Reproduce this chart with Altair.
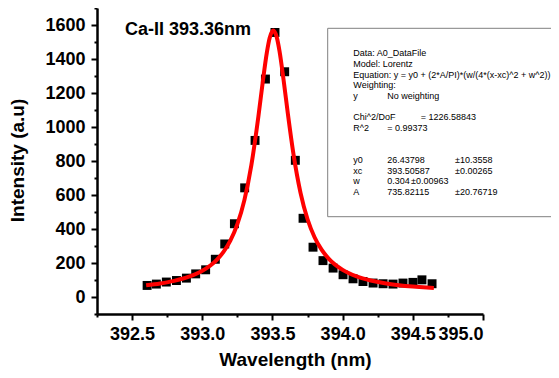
import altair as alt
import pandas as pd

# ---- data ----
wl = [392.607, 392.673, 392.744, 392.816, 392.887, 392.953, 393.024, 393.093, 393.160, 393.229,
      393.302, 393.376, 393.450, 393.518, 393.587, 393.663, 393.718, 393.789, 393.860, 393.932,
      394.003, 394.074, 394.145, 394.217, 394.288, 394.359, 394.430, 394.501, 394.565, 394.637]
inten = [68, 76, 88, 97, 111, 136, 160, 222, 312, 431,
         642, 921, 1282, 1556, 1325, 804, 463, 293, 214, 170,
         131, 107, 91, 82, 78, 76, 82, 86, 101, 78]

fit_x = [392.60, 392.70, 392.80, 392.90, 393.00, 393.10, 393.15, 393.20, 393.25, 393.30,
         393.35, 393.40, 393.43, 393.46, 393.48, 393.506, 393.53, 393.55, 393.58, 393.61,
         393.65, 393.70, 393.75, 393.80, 393.85, 393.90, 394.00, 394.10, 394.20, 394.30,
         394.40, 394.50, 394.60, 394.65]
fit_y = [68.6, 79.4, 94.7, 117.7, 154.1, 215.8, 264.2, 331.4, 428.2, 569.8,
         777.2, 1063.7, 1259.4, 1437.9, 1523.9, 1567.3, 1530.2, 1448.1, 1272.3, 1075.9,
         838.8, 612.7, 457.3, 351.4, 278.1, 226.1, 159.7, 121.1, 97.0, 80.9,
         69.7, 61.6, 55.6, 53.2]

x_major = [392.5, 393.0, 393.5, 394.0, 394.5, 395.0]
x_minor = [392.25, 392.75, 393.25, 393.75, 394.25, 394.75]
y_major = [0, 200, 400, 600, 800, 1000, 1200, 1400, 1600]
y_minor = [-100, 100, 300, 500, 700, 900, 1100, 1300, 1500, 1700]

title_text = "Ca-II 393.36nm"
box_lines = [
    ("Data: A0_DataFile", 0, 0),
    ("Model: Lorentz", 0, 1),
    ("Equation: y = y0 + (2*A/PI)*(w/(4*(x-xc)^2 + w^2))", 0, 2),
    ("Weighting:", 0, 3),
    ("y", 0, 4), ("No weighting", 1, 4),
    ("Chi^2/DoF", 0, 6), ("= 1226.58843", 3, 6),
    ("R^2", 0, 7), ("= 0.99373", 1, 7),
    ("y0", 0, 10), ("26.43798", 1, 10), ("±10.3558", 4, 10),
    ("xc", 0, 11), ("393.50587", 1, 11), ("±0.00265", 4, 11),
    ("w", 0, 12), ("0.304", 1, 12), ("±0.00963", 2, 12),
    ("A", 0, 13), ("735.82115", 1, 13), ("±20.76719", 4, 13),
]

# ---- layout ----
W, H = 386, 306
FONT = "Liberation Sans"
col_px = [256.3, 290.3, 314.0, 323.7, 358.0]
row_px = {0: 45.3, 1: 56.0, 2: 66.7, 3: 77.3, 4: 88.0, 6: 109.3, 7: 120.0,
          10: 152.0, 11: 162.7, 12: 173.3, 13: 184.0}

xscale = alt.Scale(domain=[392.25, 395.0], nice=False, zero=False)
yscale = alt.Scale(domain=[-100, 1700], nice=False, zero=False)

common_axis = dict(grid=False, domainColor="black", tickColor="black", tickWidth=2,
                   labelFont=FONT, labelFontWeight="bold", labelFontSize=18, labelColor="black",
                   titleFont=FONT, titleFontWeight="bold", titleFontSize=19, titleColor="black")

pts_df = pd.DataFrame({"x": wl, "y": inten})
fit_df = pd.DataFrame({"x": fit_x, "y": fit_y})

points = alt.Chart(pts_df).mark_point(shape="square", filled=True, size=80, color="black", opacity=1).encode(
    x=alt.X("x:Q", scale=xscale,
            axis=alt.Axis(values=x_major, format=".1f", title="Wavelength (nm)", orient="bottom",
                          domainWidth=2.5, tickSize=6, labelPadding=5,
                          titleX=198, titleY=45, titleBaseline="middle", titleAlign="center",
                          **common_axis)),
    y=alt.Y("y:Q", scale=yscale,
            axis=alt.Axis(values=y_major, format="d", title="Intensity (a.u)", orient="left",
                          domainWidth=2.5, tickSize=6, labelPadding=6,
                          titleX=-80, titleY=152, titleAngle=270, titleBaseline="middle",
                          titleAlign="center", **common_axis)),
)

minor = alt.Chart(pts_df).mark_point(opacity=0).encode(
    x=alt.X("x:Q", scale=xscale,
            axis=alt.Axis(values=x_minor, labels=False, domain=False, tickSize=3, title=None,
                          orient="bottom", grid=False, tickColor="black", tickWidth=2)),
    y=alt.Y("y:Q", scale=yscale,
            axis=alt.Axis(values=y_minor, labels=False, domain=False, tickSize=3, title=None,
                          orient="left", grid=False, tickColor="black", tickWidth=2)),
)

fit = alt.Chart(fit_df).mark_line(color="#ff0000", strokeWidth=4, interpolate="monotone").encode(
    x=alt.X("x:Q", scale=xscale, axis=None), y=alt.Y("y:Q", scale=yscale, axis=None))

one = pd.DataFrame({"a": [0]})
label = alt.Chart(one).mark_text(font=FONT, fontWeight="bold", fontSize=18, color="black",
                                 align="left", baseline="middle").encode(
    x=alt.value(28), y=alt.value(22), text=alt.value(title_text))

box = alt.Chart(one).mark_rect(fill="white", stroke="#808080", strokeWidth=1).encode(
    x=alt.value(230.7), x2=alt.value(490), y=alt.value(20.3), y2=alt.value(208.7))

texts = []
for t, c, r in box_lines:
    texts.append(alt.Chart(one).mark_text(font=FONT, fontSize=9, color="black", align="left",
                                          baseline="middle").encode(
        x=alt.value(col_px[c]), y=alt.value(row_px[r]), text=alt.value(t)))

chart = alt.layer(minor, points, fit, box, label, *texts).resolve_axis(
    x="independent", y="independent").properties(
    width=W, height=H,
    autosize=alt.AutoSizeParams(type="none"),
    padding={"left": 89, "top": 0, "right": 68, "bottom": 56},
).configure_view(stroke=None)

chart.save("out.html", embed_options={"renderer": "svg", "actions": False})
